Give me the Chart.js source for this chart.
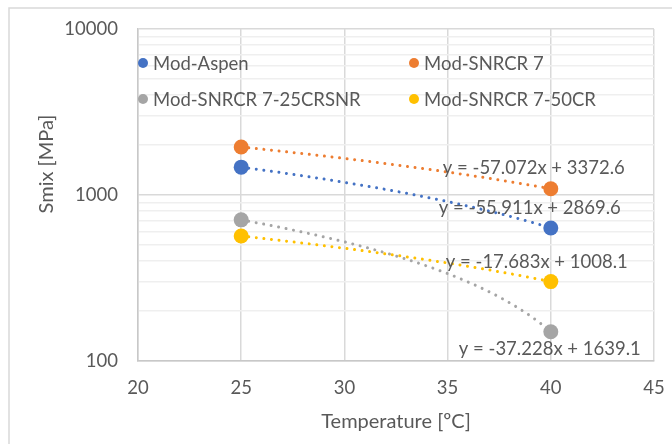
<!DOCTYPE html>
<html><head><meta charset="utf-8">
<script src="https://cdn.jsdelivr.net/npm/chart.js@4"></script>
<style>html,body{margin:0;padding:0;background:#fff}#wrap{width:672px;height:444px}</style>
</head><body><div id="wrap"><canvas id="c" width="672" height="444"></canvas></div>
<script>
// ---- data ----
const temperatures = [25, 40];
const seriesNames = ['Mod-Aspen', 'Mod-SNRCR 7', 'Mod-SNRCR 7-25CRSNR', 'Mod-SNRCR 7-50CR'];
const modAspen = [1471.8, 633.2];
const modSnrcr7 = [1945.8, 1089.7];
const modSnrcr25 = [708.4, 150.0];
const modSnrcr50 = [566.0, 300.8];
const trendSlopes = [-55.911, -57.072, -37.228, -17.683];
const trendIntercepts = [2869.6, 3372.6, 1639.1, 1008.1];
const xTickValues = [20, 25, 30, 35, 40, 45];
const yLabelValues = [100, 1000, 10000];
const yGridValues = [100, 200, 300, 400, 500, 600, 700, 800, 900,
  1000, 2000, 3000, 4000, 5000, 6000, 7000, 8000, 9000, 10000];

// ---- style ----
const colors = ['#4472C4', '#ED7D31', '#A5A5A5', '#FFC000'];
const FONT = 'Lato, "Open Sans", sans-serif';
const TEXT = '#595959';

const seriesValues = [modAspen, modSnrcr7, modSnrcr25, modSnrcr50];
const datasets = seriesNames.map((name, i) => ({
  label: name,
  data: temperatures.map((t, j) => ({x: t, y: seriesValues[i][j]})),
  backgroundColor: colors[i],
  borderColor: colors[i],
  pointRadius: 7.5,
  pointHoverRadius: 7.5,
  pointBorderWidth: 0,
  showLine: false
}));

const framePlugin = {
  id: 'frame',
  beforeDraw(chart) {
    const ctx = chart.ctx;
    ctx.save();
    ctx.fillStyle = '#fff';
    ctx.fillRect(0, 0, chart.width, chart.height);
    ctx.strokeStyle = '#d9d9d9';
    ctx.lineWidth = 1.5;
    ctx.strokeRect(9, 8, 800, 600);
    ctx.restore();
  }
};

const trendPlugin = {
  id: 'trend',
  beforeDatasetsDraw(chart, args, opts) {
    const ctx = chart.ctx, xs = chart.scales.x, ys = chart.scales.y;
    const x0 = Math.min(...temperatures), x1 = Math.max(...temperatures);
    ctx.save();
    ctx.lineWidth = 3;
    ctx.lineCap = 'round';
    ctx.setLineDash([0.01, 7.6]);
    trendSlopes.forEach((m, i) => {
      ctx.strokeStyle = colors[i];
      ctx.beginPath();
      const n = 200;
      for (let k = 0; k <= n; k++) {
        const xv = x0 + (x1 - x0) * k / n;
        const px = xs.getPixelForValue(xv), py = ys.getPixelForValue(m * xv + trendIntercepts[i]);
        if (k === 0) ctx.moveTo(px, py); else ctx.lineTo(px, py);
      }
      ctx.stroke();
    });
    ctx.restore();
  },
  afterDatasetsDraw(chart, args, opts) {
    const ctx = chart.ctx, xs = chart.scales.x, ys = chart.scales.y;
    const xe = Math.max(...temperatures);
    ctx.save();
    ctx.font = opts.font;
    ctx.fillStyle = TEXT;
    ctx.textAlign = 'center';
    ctx.textBaseline = 'middle';
    trendSlopes.forEach((m, i) => {
      const b = trendIntercepts[i];
      const px = xs.getPixelForValue(xe), py = ys.getPixelForValue(m * xe + b);
      const txt = 'y = ' + m + 'x + ' + b;
      ctx.fillText(txt, px + opts.offsets[i][0], py + opts.offsets[i][1]);
    });
    ctx.restore();
  }
};

const legendPlugin = {
  id: 'innerLegend',
  afterDatasetsDraw(chart, args, opts) {
    const ctx = chart.ctx;
    ctx.save();
    ctx.font = opts.font;
    ctx.textBaseline = 'middle';
    ctx.textAlign = 'left';
    chart.data.datasets.forEach((ds, i) => {
      const [cx, cy] = opts.slots[i];
      ctx.fillStyle = ds.backgroundColor;
      ctx.beginPath();
      ctx.arc(cx, cy, 5, 0, Math.PI * 2);
      ctx.fill();
      ctx.fillStyle = TEXT;
      ctx.fillText(ds.label, cx + 10, cy + 1);
    });
    ctx.restore();
  }
};

const yTitlePlugin = {
  id: 'yTitle',
  afterDraw(chart, args, opts) {
    const ctx = chart.ctx;
    ctx.save();
    ctx.translate(opts.x, opts.y);
    ctx.rotate(-Math.PI / 2);
    ctx.font = opts.font;
    ctx.fillStyle = TEXT;
    ctx.textAlign = 'center';
    ctx.textBaseline = 'middle';
    ctx.fillText(opts.text, 0, 0);
    ctx.restore();
  }
};

new Chart(document.getElementById('c'), {
  type: 'scatter',
  data: {datasets},
  options: {
    responsive: false,
    animation: false,
    devicePixelRatio: 1,
    layout: {padding: {top: 29, right: 18, left: 0, bottom: 0}},
    plugins: {
      legend: {display: false},
      tooltip: {enabled: false},
      trend: {font: '18.5px ' + FONT, offsets: [[-21, -20], [-17, -21], [-1, 17], [-14, -20]]},
      innerLegend: {font: '18.5px ' + FONT, slots: [[143, 63], [414, 63], [143, 99], [414, 99]]},
      yTitle: {text: 'Smix [MPa]', x: 47, y: 164, font: '20px ' + FONT}
    },
    scales: {
      x: {
        type: 'linear', min: 20, max: 45,
        afterFit(s) { s.height = 83; s.paddingLeft = 0; s.paddingRight = 0; },
        afterBuildTicks(s) { s.ticks = xTickValues.map(v => ({value: v})); },
        grid: {color: '#d9d9d9', lineWidth: 1.5, drawTicks: false},
        border: {color: '#c8c8c8', width: 1.5},
        ticks: {color: TEXT, font: {family: FONT, size: 18.5}, padding: 16, autoSkip: false, maxRotation: 0},
        title: {display: true, text: 'Temperature [ºC]', color: TEXT, font: {family: FONT, size: 20}, padding: {top: 0, bottom: 10}}
      },
      y: {
        type: 'logarithmic', min: 100, max: 10000,
        afterFit(s) { s.width = 138; s.paddingTop = 0; s.paddingBottom = 0; },
        afterBuildTicks(s) { s.ticks = yGridValues.map(v => ({value: v, major: yLabelValues.includes(v)})); },
        grid: {
          color: c => (c.tick && yLabelValues.includes(c.tick.value)) ? '#d9d9d9' : '#efefef',
          lineWidth: 1.5, drawTicks: false
        },
        border: {color: '#c8c8c8', width: 1.5},
        ticks: {
          color: TEXT, font: {family: FONT, size: 18.5}, padding: 20, autoSkip: false,
          callback: v => yLabelValues.includes(v) ? String(v) : ''
        }
      }
    }
  },
  plugins: [framePlugin, trendPlugin, legendPlugin, yTitlePlugin]
});
</script>
</body></html>
